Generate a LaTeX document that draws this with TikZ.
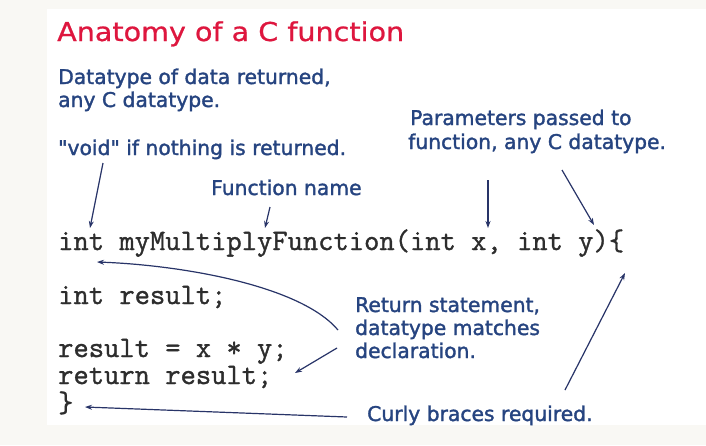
\documentclass[tikz,border=0pt]{standalone}
\usepackage{fontspec}
\setmainfont{DejaVu Sans}
\newfontfamily\titlefont[FakeStretch=1.1,FakeBold=0.8]{DejaVu Sans}
\newfontfamily\notefont[Ligatures=TeXOff,FakeBold=1.6]{DejaVu Sans}
\newfontfamily\codefont[FakeBold=1.2]{Latin Modern Mono}
\usetikzlibrary{arrows.meta}
\definecolor{titlered}{RGB}{222,22,62}
\definecolor{labelblue}{RGB}{38,68,128}
\definecolor{arrowblue}{RGB}{40,52,104}
\definecolor{codegray}{RGB}{45,45,45}
\definecolor{pagebg}{RGB}{249,248,244}
\tikzset{
  title/.style={anchor=base west, inner sep=0pt, text=titlered, font=\titlefont\fontsize{26}{30}\selectfont},
  note/.style={anchor=base west, inner sep=0pt, text=labelblue, font=\notefont\fontsize{20.3}{24}\selectfont},
  code/.style={anchor=base west, inner sep=0pt, text=codegray, font=\codefont\fontsize{29.7}{32}\selectfont},
  pointer/.style={draw=arrowblue, line width=1.2pt, -{Stealth[length=7pt,width=5pt]}}
}
\begin{document}
\begin{tikzpicture}[x=1pt,y=-1pt]
  % page and white slide panel
  \fill[pagebg] (0,0) rectangle (706,445);
  \fill[white] (47,9) rectangle (706,425);
  \useasboundingbox (0,0) rectangle (706,445);

  % heading
  \node[title] (head) at (57,41) {Anatomy of a C function};

  % explanatory notes
  \node[note] (dtA) at (58,84) {Datatype of data returned,};
  \node[note] (dtB) at (58,107) {any C datatype.};
  \node[note] (void) at (58,155) {"void" if nothing is returned.};
  \node[note] (fname) at (211,195) {Function name};
  \node[note] (parA) at (410,125) {Parameters passed to};
  \node[note] (parB) at (408,149) {function, any C datatype.};
  \node[note] (retA) at (355,312) {Return statement,};
  \node[note] (retB) at (355,335) {datatype matches};
  \node[note] (retC) at (355,358) {declaration.};
  \node[note] (curly) at (367,421) {Curly braces required.};

  % source code
  \node[code] (sig) at (58,250) {int myMultiplyFunction(int x, int y)\{};
  \node[code] (decl) at (58,304) {int result;};
  \node[code] (calc) at (58,357) {result = x * y;};
  \node[code] (ret) at (58,384) {return result;};
  \node[code] (close) at (58,412) {\}};

  % arrow end points
  \coordinate (voidS) at (103,163);
  \coordinate (intT) at (90,228);
  \coordinate (fnameS) at (270,207);
  \coordinate (nameT) at (265,228);
  \coordinate (parS1) at (488,180);
  \coordinate (xT) at (488,228);
  \coordinate (parS2) at (562,170);
  \coordinate (yT) at (594,225);
  \coordinate (retS1) at (338,330);
  \coordinate (intB) at (97,262);
  \coordinate (retS2) at (337,348);
  \coordinate (retT) at (295,373);
  \coordinate (curlyS1) at (347,417);
  \coordinate (closeT) at (85,407);
  \coordinate (curlyS2) at (565,390);
  \coordinate (openT) at (625,273);

  % pointers
  \draw[pointer] (voidS) -- (intT);
  \draw[pointer] (fnameS) -- (nameT);
  \draw[pointer] (parS1) -- (xT);
  \draw[pointer] (parS2) -- (yT);
  \draw[pointer] (retS1) .. controls (300,285) and (180,265) .. (intB);
  \draw[pointer] (retS2) -- (retT);
  \draw[pointer] (curlyS1) -- (closeT);
  \draw[pointer] (curlyS2) -- (openT);
\end{tikzpicture}
\end{document}
